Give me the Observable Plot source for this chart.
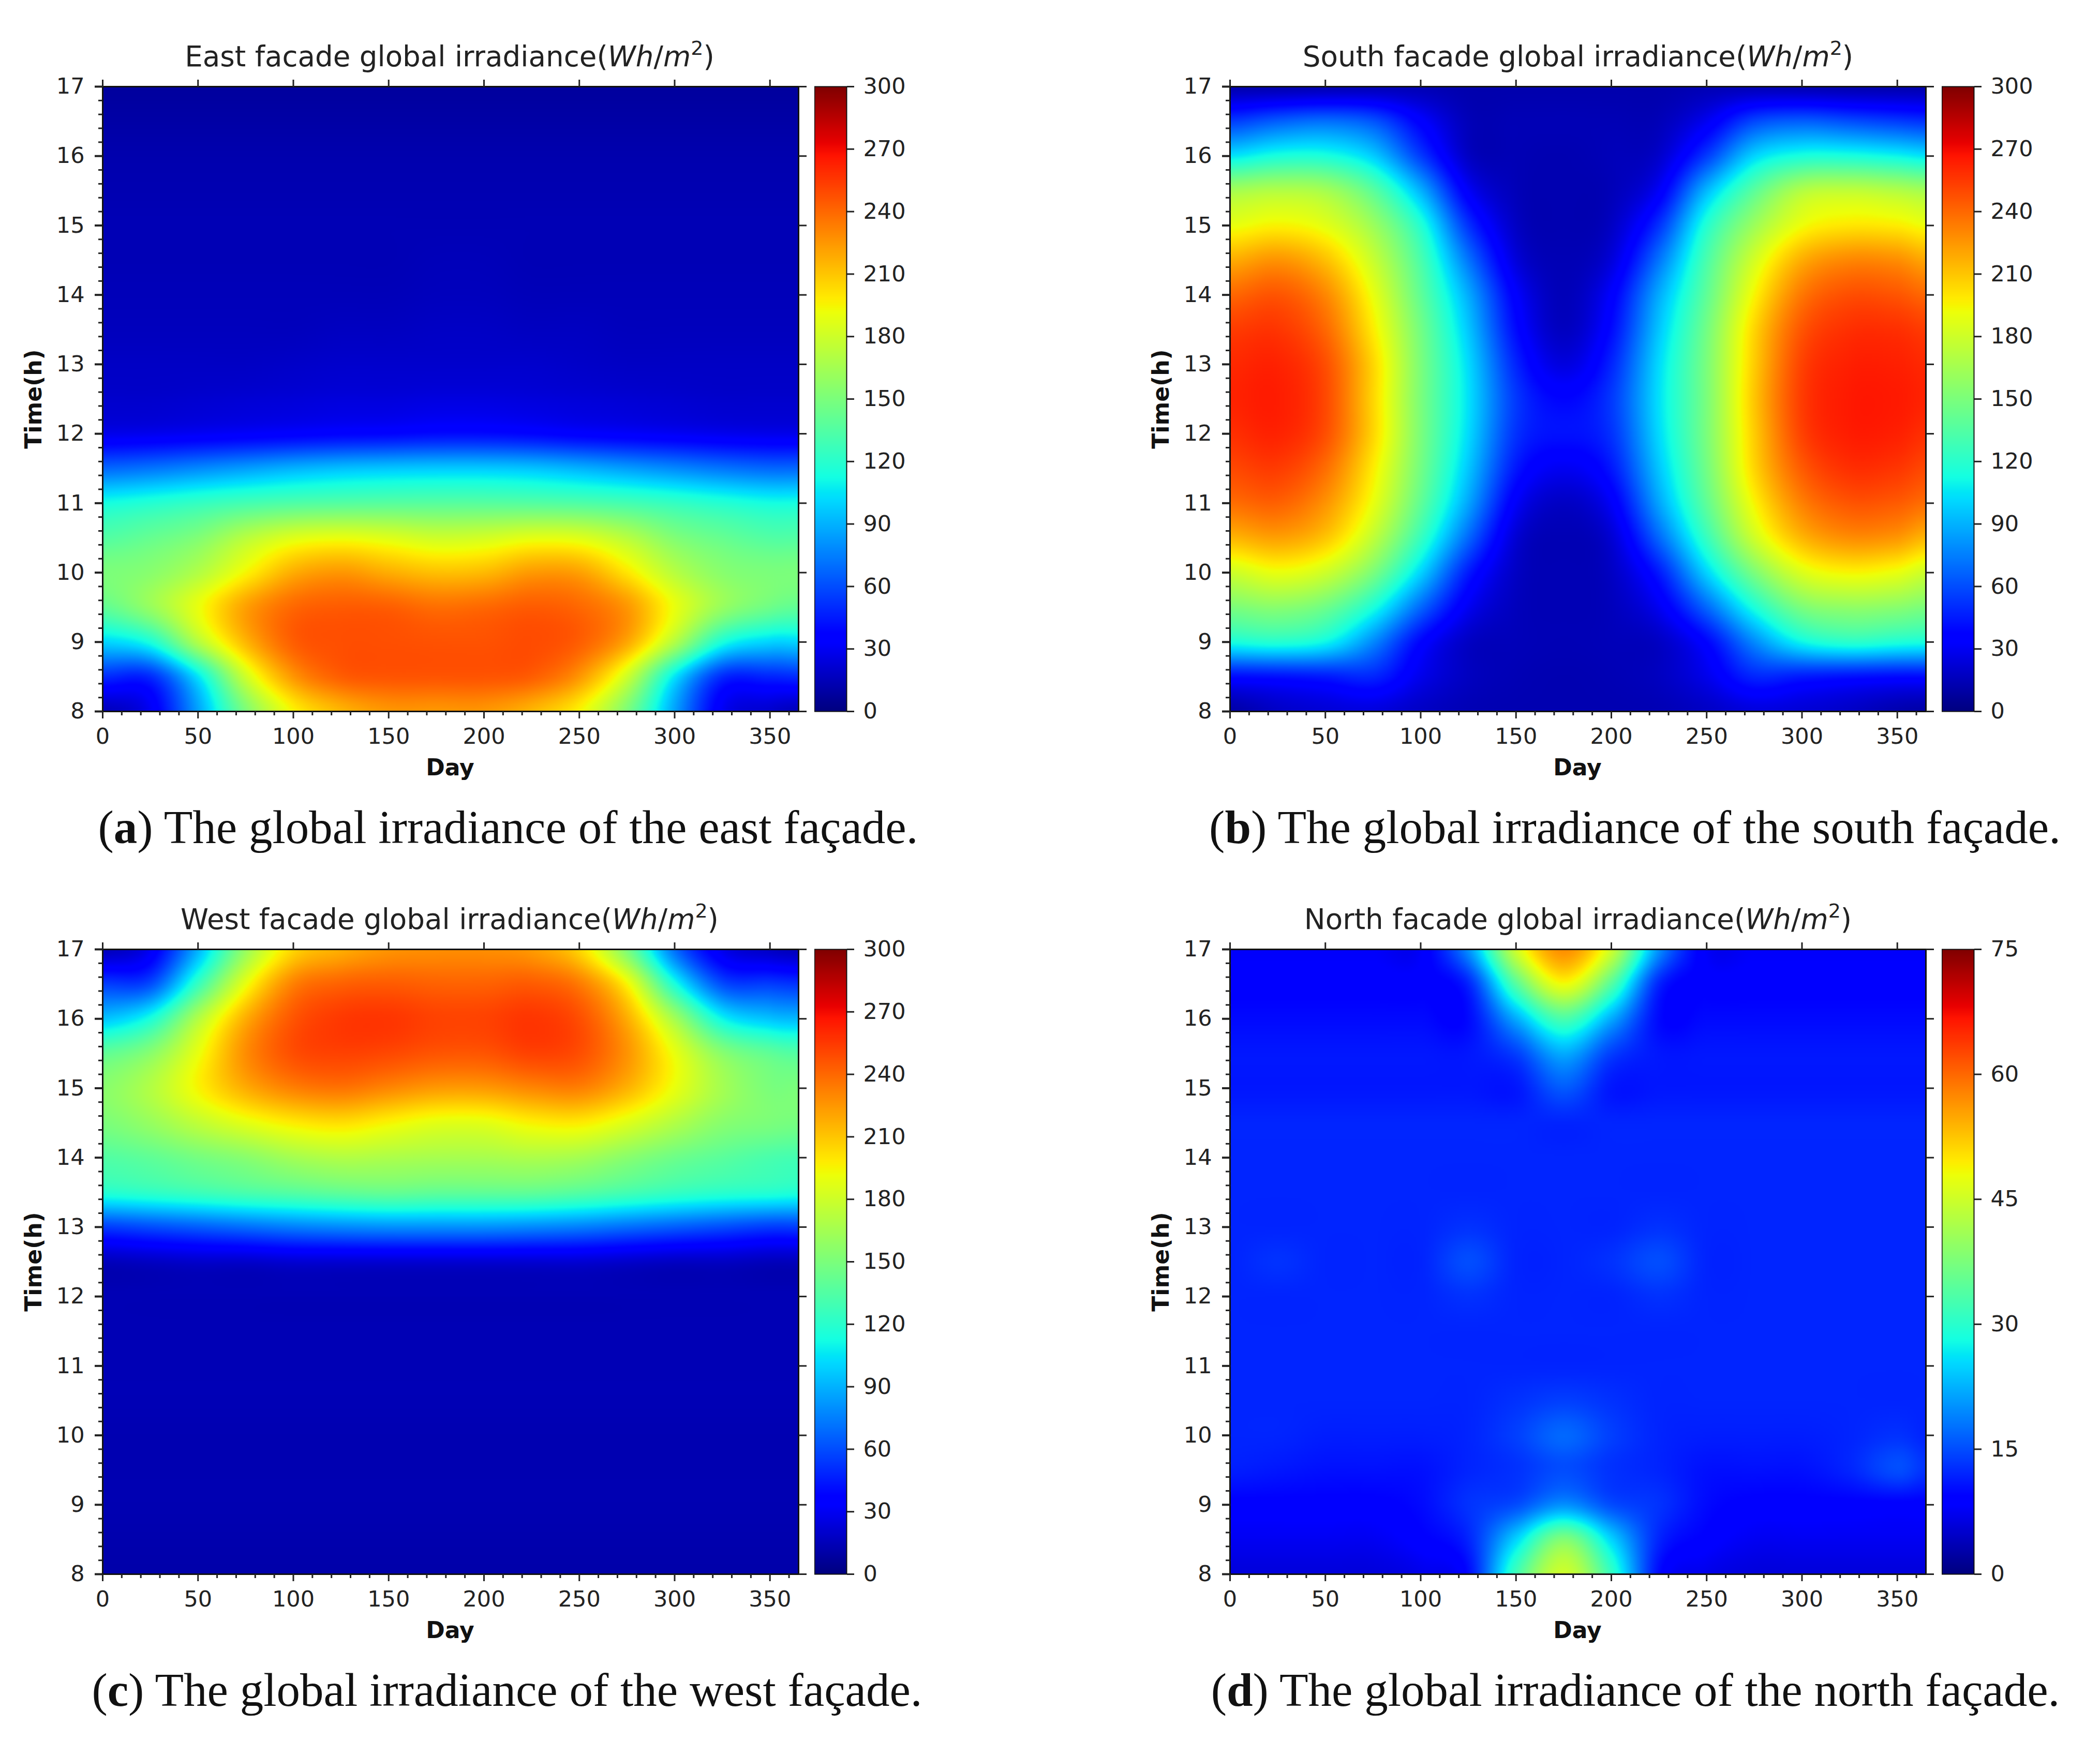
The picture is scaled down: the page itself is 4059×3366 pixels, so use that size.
<!DOCTYPE html>
<html>
<head>
<meta charset="utf-8">
<script src="https://cdn.jsdelivr.net/npm/d3@7"></script>
<script src="https://cdn.jsdelivr.net/npm/@observablehq/plot@0.6"></script>
<style>
html,body{margin:0;padding:0;background:#fff}
#page{position:relative;width:4059px;height:3366px;overflow:hidden;background:#fff}
#page svg{position:absolute;background:transparent}
.title{position:absolute;font-family:"DejaVu Sans";font-size:54.7px;color:#222;white-space:nowrap;transform:translateX(-50%);line-height:1}
.title sup{font-size:38px;line-height:0;vertical-align:baseline;position:relative;top:-22px}
.cap{position:absolute;font-family:"Liberation Serif";font-size:91px;color:#111;white-space:nowrap;transform:translateX(-50%);line-height:1}
</style>
</head>
<body>
<div id="page"></div>
<script>
const days = [0,25,50,75,100,125,150,175,200,225,250,275,300,325,350,365];
const hours = [17,16.5,16,15.5,15,14.5,14,13.5,13,12.5,12,11.5,11,10.5,10,9.5,9,8.5,8];

const east = [
[8,8,8,8,8,8,8,8,8,8,8,8,8,8,8,8],
[10,10,10,10,10,10,10,10,10,10,10,10,10,10,10,10],
[12,12,12,12,12,12,12,12,12,12,12,12,12,12,12,12],
[13,13,13,13,13,13,13,13,13,13,13,13,13,13,13,13],
[14,14,14,14,14,14,14,14,14,14,14,14,14,14,14,14],
[14,14,14,14,14,14,14,15,15,14,14,14,14,14,14,14],
[15,15,15,15,15,15,15,16,16,15,15,15,15,15,15,15],
[16,16,16,16,16,17,17,18,18,17,17,16,16,16,16,16],
[18,18,18,18,19,20,20,20,20,20,19,18,18,18,18,18],
[20,20,21,22,23,24,24,25,25,24,23,22,21,20,20,20],
[28,29,31,33,35,37,38,40,40,38,35,33,31,29,28,28],
[68,72,78,84,90,94,96,97,97,95,90,84,78,72,68,68],
[113,118,124,130,134,136,137,137,137,136,134,130,124,118,113,113],
[135,142,152,172,186,190,186,180,182,188,186,172,152,142,135,135],
[150,155,170,195,218,225,218,212,214,224,222,200,172,155,150,150],
[140,160,190,222,240,244,243,238,240,244,240,225,190,160,145,140],
[100,115,170,215,243,248,248,247,247,249,243,220,170,115,100,100],
[50,50,105,180,225,243,246,246,246,243,225,180,105,50,48,50],
[15,30,85,150,195,215,225,225,225,215,195,150,85,30,20,15]];

const south = [
[12,12,13,14,14,12,12,12,12,12,14,14,13,12,12,12],
[55,65,70,62,35,15,14,14,14,15,30,58,65,60,55,52],
[105,115,115,98,55,18,14,13,15,20,55,100,115,115,110,105],
[165,170,165,138,90,32,15,13,15,32,92,138,170,175,170,165],
[190,196,188,162,118,52,18,13,18,52,118,162,192,200,198,192],
[218,226,212,178,132,72,24,14,24,72,132,182,218,230,228,220],
[240,246,230,190,140,88,34,15,34,88,140,195,235,248,246,240],
[254,256,240,198,147,96,40,17,40,96,147,205,246,258,258,254],
[260,262,248,205,150,102,48,25,48,102,150,208,252,263,263,260],
[262,264,250,205,150,104,54,38,54,104,150,210,254,265,265,262],
[258,262,248,205,150,102,52,42,52,102,150,208,252,264,263,258],
[250,254,238,198,147,96,44,30,44,96,147,205,244,258,256,250],
[238,242,226,190,140,86,32,18,32,86,140,195,232,246,244,238],
[215,222,210,175,125,68,22,14,22,68,125,180,215,228,225,215],
[180,190,180,150,100,45,18,14,18,45,100,150,185,195,190,180],
[150,155,145,115,68,30,16,14,16,30,68,115,150,158,155,150],
[114,118,110,78,38,18,15,14,15,18,38,78,110,120,116,114],
[40,42,45,48,28,17,14,13,14,17,28,48,45,42,40,40],
[10,18,22,24,18,14,13,13,13,14,18,24,22,18,12,10]];

const west = [
[15,30,90,160,205,218,226,228,228,224,205,150,70,28,18,15],
[55,60,125,190,232,242,244,242,242,244,234,195,115,60,55,52],
[95,115,170,218,246,255,256,252,252,256,248,218,165,110,95,92],
[140,155,190,228,248,252,250,246,246,252,248,226,190,155,140,135],
[155,170,195,218,232,236,230,224,224,230,232,216,190,165,150,150],
[150,160,175,188,198,202,195,188,188,196,198,186,170,155,150,148],
[135,140,148,155,165,170,168,166,166,168,165,155,145,138,132,130],
[118,122,127,132,136,140,142,140,140,140,136,130,124,120,118,116],
[55,60,65,70,75,78,80,80,80,78,75,70,65,60,55,55],
[16,18,20,20,22,22,22,22,22,22,22,20,18,18,16,16],
[14,14,14,14,14,14,14,14,14,14,14,14,14,14,14,14],
[14,14,14,14,14,14,14,14,14,14,14,14,14,14,14,14],
[14,14,14,14,14,14,14,14,14,14,14,14,14,14,14,14],
[14,14,14,14,14,14,14,14,14,14,14,14,14,14,14,14],
[13,13,13,13,13,13,13,13,13,13,13,13,13,13,13,13],
[13,13,13,13,13,13,13,13,13,13,13,13,13,13,13,13],
[13,13,13,13,13,13,13,13,13,13,13,13,13,13,13,13],
[12,12,12,12,12,12,12,12,12,12,12,12,12,12,12,12],
[11,11,11,11,11,11,11,11,11,11,11,11,11,11,11,11]];

const north = [
[8,8,8,8,8,20,45,57,45,20,8,8,8,8,8,8],
[9,9,9,9,9,12,34,48,34,12,9,9,9,9,9,9],
[10,10,10,10,10,10,22,33,22,10,10,10,10,10,10,10],
[11,11,11,11,11,11,14,22,14,11,11,11,11,11,11,11],
[11,11,11,11,11,11,11,16,11,11,11,11,11,11,11,11],
[12,12,12,12,12,12,12,12,12,12,12,12,12,12,12,12],
[12,12,12,12,12,12,12,12,12,12,12,12,12,12,12,12],
[12,12,12,12,12,12,12,12,12,12,12,12,12,12,12,12],
[12,12,12,12,12,13,12,12,12,13,12,12,12,12,12,12],
[12,13,12,12,12,15,12,12,13,15,12,12,12,12,12,12],
[12,12,12,12,12,13,12,12,12,13,12,12,12,12,12,12],
[12,12,12,12,12,12,12,12,12,12,12,12,12,12,12,12],
[12,12,12,12,12,12,12,12,12,12,12,12,12,12,12,12],
[12,12,12,12,12,12,13,14,13,12,12,12,12,12,12,12],
[12,12,11.5,11.5,11.5,12,14,17,14,12,11.5,11.5,11.5,12,13,12],
[11.5,11,10.5,10.5,10.5,12,13,15,13,12,10.5,10.5,10.5,12,15,13],
[9,9,9,9,10,13,15,20,15,13,10,9,9,9,9,9],
[7.5,7.5,7.5,7.5,9,12,25,38,25,12,9,7.5,7.5,7.5,7.5,7.5],
[6,6,6,6,7,10,32,45,31,10,7,6,6,6,6,6]];

const hourTicks = [8,9,10,11,12,13,14,15,16,17];
const hourMinor = [8.2,8.4,8.6,8.8,9.2,9.4,9.6,9.8,10.2,10.4,10.6,10.8,11.2,11.4,11.6,11.8,12.2,12.4,12.6,12.8,13.2,13.4,13.6,13.8,14.2,14.4,14.6,14.8,15.2,15.4,15.6,15.8,16.2,16.4,16.6,16.8];
const dayTicks = [0,50,100,150,200,250,300,350];
const dayMinor = [10,20,30,40,60,70,80,90,110,120,130,140,160,170,180,190,210,220,230,240,260,270,280,290,310,320,330,340,360];
const ticks300 = [0,30,60,90,120,150,180,210,240,270,300];
const ticks75 = [0,15,30,45,60,75];
const jetStops = [0,.11,.125,.34,.35,.375,.64,.65,.66,.89,.91,1];
const jetColors = ["#00007f","#0000ff","#0000ff","#00dbff","#00e5f7","#14ffe2","#eeff08","#f7f500","#ffec00","#ff1300","#e80000","#7f0000"];

const panelNames = ["East","South","West","North"];
const panelLetters = ["a","b","c","d"];
const captionWords = ["east","south","west","north"];
const panelLeft = [198,2377,198,2377];
const panelTop = [167,167,1835,1835];
const panelMax = [300,300,300,75];
const panelTicks = [ticks300,ticks300,ticks300,ticks75];
const panelGrid = [east,south,west,north];
const titleX = [869,3050,869,3050];
const capX = [982,3160,980,3161];
const capTop = [1554,1554,3222,3222];

const plotW = 1345, plotH = 1208;
const ml = 198, mt = 40, mr = 40, mb = 160;
const page = document.getElementById("page");

function rows(grid){
  const out = [];
  hours.forEach((h,r)=>days.forEach((d,c)=>out.push({day:d,hour:h,v:grid[r][c]})));
  return out;
}
function cr(a,b,c,d,t){return 0.5*(2*b+(c-a)*t+(2*a-5*b+4*c-d)*t*t+(3*b-a-3*c+d)*t*t*t);}
function smooth(index,w,h,X,Y,V){
  const I = Array.from(index);
  const xs = [...new Set(I.map(i=>X[i]))].sort((a,b)=>a-b);
  const ys = [...new Set(I.map(i=>Y[i]))].sort((a,b)=>a-b);
  const xi = new Map(xs.map((x,i)=>[x,i])), yi = new Map(ys.map((y,i)=>[y,i]));
  const G = ys.map(()=>new Float64Array(xs.length));
  I.forEach(i=>{G[yi.get(Y[i])][xi.get(X[i])]=V[i];});
  const out = new Float64Array(w*h);
  const loc = (arr,p)=>{
    let k = d3.bisectRight(arr,p)-1;
    k = Math.max(0,Math.min(arr.length-2,k));
    return [k,Math.max(0,Math.min(1,(p-arr[k])/(arr[k+1]-arr[k])))];
  };
  const cl = (k,n)=>Math.max(0,Math.min(n-1,k));
  for(let py=0;py<h;py++){
    const [ky,ty] = loc(ys,py+.5);
    for(let px=0;px<w;px++){
      const [kx,tx] = loc(xs,px+.5);
      const col = [-1,0,1,2].map(o=>{
        const row = G[cl(ky+o,ys.length)];
        return cr(row[cl(kx-1,xs.length)],row[kx],row[kx+1],row[cl(kx+2,xs.length)],tx);
      });
      out[py*w+px] = Math.max(0,cr(col[0],col[1],col[2],col[3],ty));
    }
  }
  return out;
}

panelGrid.forEach((grid,i)=>{
  const max = panelMax[i];
  const color = {type:"linear",domain:jetStops.map(s=>s*max),range:jetColors,interpolate:"rgb"};
  const svg = Plot.plot({
    width:ml+plotW+mr,height:mt+plotH+mb,
    marginLeft:ml,marginTop:mt,marginRight:mr,marginBottom:mb,
    style:{fontFamily:"DejaVu Sans",background:"transparent",color:"#222"},
    x:{domain:[0,365],axis:null},
    y:{domain:[8,17],axis:null},
    color,
    marks:[
      Plot.raster(rows(grid),{x:"day",y:"hour",fill:"v",x1:0,x2:365,y1:8,y2:17,pixelSize:3,interpolate:smooth,imageRendering:"auto"}),
      Plot.frame({stroke:"#111",strokeWidth:3}),
      Plot.axisY({anchor:"left",ticks:hourMinor,tickSize:8,tickFormat:()=>"",label:null,strokeWidth:3}),
      Plot.axisY({anchor:"left",ticks:hourTicks,tickSize:15,tickPadding:20,fontSize:43,label:null,strokeWidth:4,tickFormat:d=>String(d)}),
      Plot.axisY({anchor:"right",ticks:hourTicks,tickSize:15,tickFormat:()=>"",label:null,strokeWidth:3}),
      Plot.axisX({anchor:"bottom",ticks:dayMinor,tickSize:8,tickFormat:()=>"",label:null,strokeWidth:3}),
      Plot.axisX({anchor:"bottom",ticks:dayTicks,tickSize:14,tickPadding:18,fontSize:43,label:null,strokeWidth:3,tickFormat:d=>String(d)}),
      Plot.axisX({anchor:"top",ticks:dayTicks,tickSize:14,tickFormat:()=>"",label:null,strokeWidth:3}),
      Plot.text(["Day"],{frameAnchor:"bottom",dy:123,dx:-1,fontSize:44,fontWeight:"bold",fill:"#111"}),
      Plot.text(["Time(h)"],{frameAnchor:"left",textAnchor:"middle",dx:-133,dy:0,rotate:-90,fontSize:44,fontWeight:"bold",fill:"#111"})
    ]
  });
  svg.style.left = (panelLeft[i]-ml)+"px";
  svg.style.top = (panelTop[i]-mt)+"px";
  page.appendChild(svg);

  const cb = Plot.plot({
    width:62+140,height:mt+plotH+mb,
    marginLeft:0,marginTop:mt,marginRight:140,marginBottom:mb,
    style:{fontFamily:"DejaVu Sans",background:"transparent",color:"#222"},
    x:{domain:[0,1],axis:null},
    y:{domain:[0,max],axis:null},
    color,
    marks:[
      Plot.raster({x1:0,x2:1,y1:0,y2:max,width:1,height:600,fill:(x,y)=>y,imageRendering:"auto"}),
      Plot.frame({stroke:"#111",strokeWidth:2}),
      Plot.axisY({anchor:"right",ticks:panelTicks[i],tickSize:14,tickPadding:18,fontSize:43,label:null,strokeWidth:3,tickFormat:d=>String(d)})
    ]
  });
  cb.style.left = (panelLeft[i]+plotW+31)+"px";
  cb.style.top = (panelTop[i]-mt)+"px";
  page.appendChild(cb);

  const t = document.createElement("div");
  t.className = "title";
  t.style.left = titleX[i]+"px";
  t.style.top = (panelTop[i]-85)+"px";
  t.innerHTML = panelNames[i]+" facade global irradiance(<i>Wh</i>/<i>m</i><sup>2</sup>)";
  page.appendChild(t);

  const c = document.createElement("div");
  c.className = "cap";
  c.style.left = capX[i]+"px";
  c.style.top = capTop[i]+"px";
  c.innerHTML = "(<b>"+panelLetters[i]+"</b>) The global irradiance of the "+captionWords[i]+" façade.";
  page.appendChild(c);
});
</script>
</body>
</html>
